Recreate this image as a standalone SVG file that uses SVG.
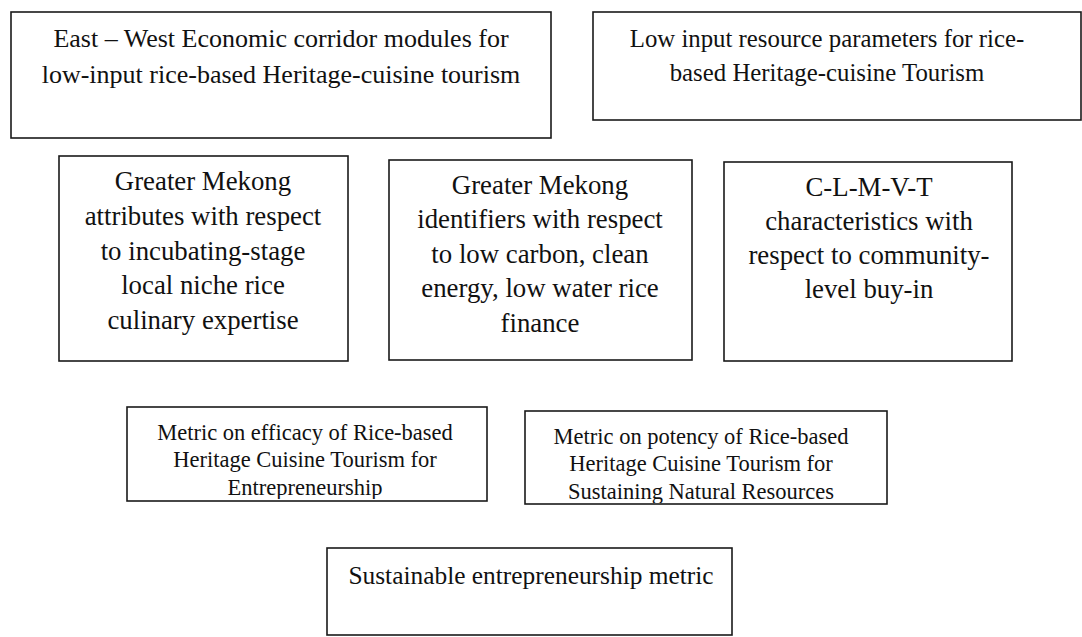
<svg xmlns="http://www.w3.org/2000/svg" width="1082" height="637" viewBox="0 0 1082 637">
  <style>
    .box { fill: #ffffff; stroke: #1a1a1a; stroke-width: 1.6; }
    .lbl { font-family: "Liberation Serif", "DejaVu Serif", serif; font-size: 26px; fill: #111111; text-anchor: middle; }
    .mid { font-size: 26.8px; }
    .top2 { font-size: 24.8px; }
    .sm { font-size: 22.5px; }
    .end { font-size: 25.4px; }
  </style>
  <defs>
    <clipPath id="clip-efficacy"><rect x="127" y="407" width="360" height="92"/></clipPath>
    <clipPath id="clip-potency"><rect x="525" y="411" width="362" height="92"/></clipPath>
  </defs>
  <rect width="1082" height="637" fill="#ffffff"/>

  <g id="connectors"></g>

  <g id="node-corridor">
    <rect class="box" x="11" y="12" width="540" height="126"/>
    <text class="lbl" x="281" y="47">East – West Economic corridor modules for</text>
    <text class="lbl" x="281" y="83">low-input rice-based Heritage-cuisine tourism</text>
  </g>

  <g id="node-resources">
    <rect class="box" x="593" y="12" width="488" height="108"/>
    <text class="lbl top2" x="827" y="47">Low input resource parameters for rice-</text>
    <text class="lbl top2" x="827" y="81">based Heritage-cuisine Tourism</text>
  </g>

  <g id="node-attributes">
    <rect class="box" x="59" y="156" width="289" height="205"/>
    <text class="lbl mid" x="203" y="190">Greater Mekong</text>
    <text class="lbl mid" x="203" y="225">attributes with respect</text>
    <text class="lbl mid" x="203" y="260">to incubating-stage</text>
    <text class="lbl mid" x="203" y="294">local niche rice</text>
    <text class="lbl mid" x="203" y="329">culinary expertise</text>
  </g>

  <g id="node-identifiers">
    <rect class="box" x="389" y="160" width="303" height="200"/>
    <text class="lbl mid" x="540" y="194">Greater Mekong</text>
    <text class="lbl mid" x="540" y="228">identifiers with respect</text>
    <text class="lbl mid" x="540" y="263">to low carbon, clean</text>
    <text class="lbl mid" x="540" y="297">energy, low water rice</text>
    <text class="lbl mid" x="540" y="332">finance</text>
  </g>

  <g id="node-clmvt">
    <rect class="box" x="724" y="162" width="288" height="199"/>
    <text class="lbl mid" x="869" y="196">C-L-M-V-T</text>
    <text class="lbl mid" x="869" y="230">characteristics with</text>
    <text class="lbl mid" x="869" y="264">respect to community-</text>
    <text class="lbl mid" x="869" y="298">level buy-in</text>
  </g>

  <g id="node-efficacy">
    <rect class="box" x="127" y="407" width="360" height="94"/>
    <g clip-path="url(#clip-efficacy)">
      <text class="lbl sm" x="305" y="440">Metric on efficacy of Rice-based</text>
      <text class="lbl sm" x="305" y="467">Heritage Cuisine Tourism for</text>
      <text class="lbl sm" x="305" y="495">Entrepreneurship</text>
    </g>
  </g>

  <g id="node-potency">
    <rect class="box" x="525" y="411" width="362" height="93"/>
    <g clip-path="url(#clip-potency)">
      <text class="lbl sm" x="701" y="444">Metric on potency of Rice-based</text>
      <text class="lbl sm" x="701" y="471">Heritage Cuisine Tourism for</text>
      <text class="lbl sm" x="701" y="499">Sustaining Natural Resources</text>
    </g>
  </g>

  <g id="node-sustainable">
    <rect class="box" x="327" y="548" width="405" height="87"/>
    <text class="lbl end" x="531" y="584">Sustainable entrepreneurship metric</text>
  </g>
</svg>
